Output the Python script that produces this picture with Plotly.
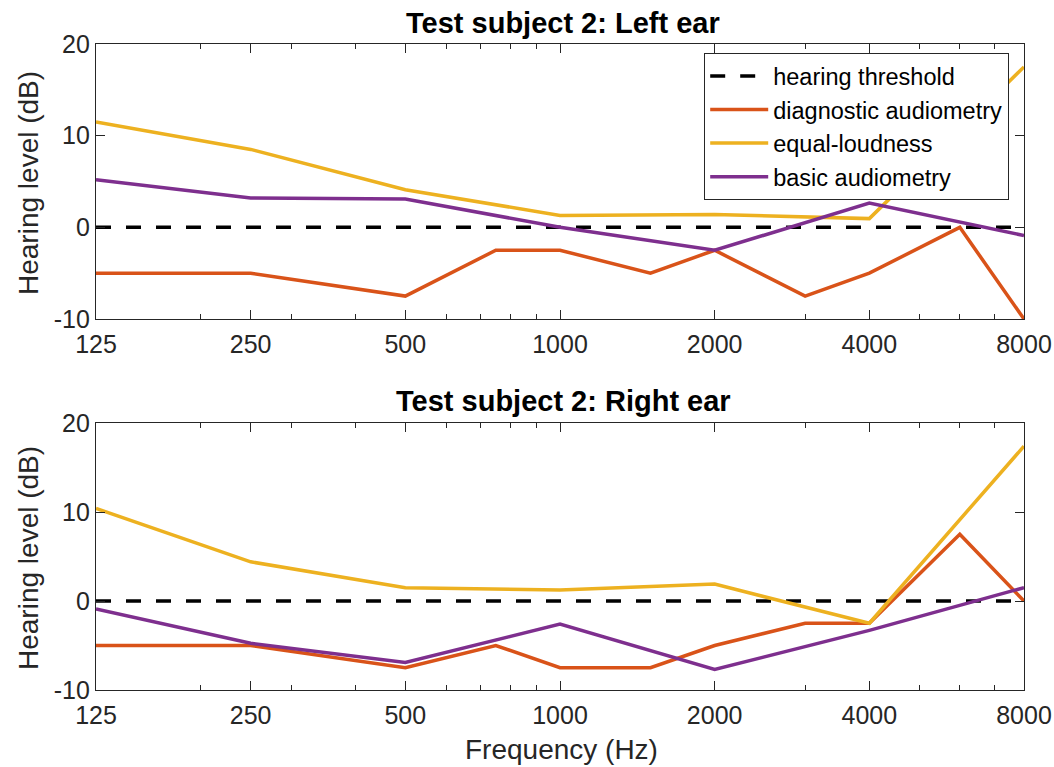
import plotly.graph_objects as go

# ---- data ----
freq_diag = [125, 250, 500, 750, 1000, 1500, 2000, 3000, 4000, 6000, 8000]
freq_oct = [125, 250, 500, 1000, 2000, 4000, 8000]
threshold_freq = [125, 8000]
threshold_level = [0, 0]

left_diagnostic = [-5, -5, -7.5, -2.5, -2.5, -5, -2.5, -7.5, -5, 0, -10]
left_equal = [11.5, 8.5, 4.1, 1.3, 1.4, 0.95, 17.5]
left_basic = [5.2, 3.2, 3.1, 0, -2.5, 2.65, -0.9]

right_diagnostic = [-5, -5, -7.5, -5, -7.5, -7.5, -5, -2.5, -2.5, 7.5, 0]
right_equal = [10.4, 4.4, 1.5, 1.25, 1.9, -2.5, 17.4]
right_basic = [-0.9, -4.75, -6.9, -2.6, -7.7, -3.3, 1.5]

xtick_vals = [125, 250, 500, 1000, 2000, 4000, 8000]
xtick_text = ["125", "250", "500", "1000", "2000", "4000", "8000"]
xminor_vals = [200, 300, 400, 600, 700, 800, 900, 3000, 5000, 6000, 7000]
ytick_vals = [-10, 0, 10, 20]
ytick_text = ["-10", "0", "10", "20"]

titles = ["Test subject 2: Left ear", "Test subject 2: Right ear"]
names = ["hearing threshold", "diagnostic audiometry", "equal-loudness", "basic audiometry"]
colors = ["#000000", "#D95319", "#EDB120", "#7E2F8E"]

FONT = "Liberation Sans, Arial, Helvetica, sans-serif"
AXC = "#262626"
W, H = 1054, 767
LW = 3.5

fig = go.Figure()

panels = [
    ("x", "y", left_diagnostic, left_equal, left_basic, True),
    ("x2", "y2", right_diagnostic, right_equal, right_basic, False),
]
for xa, ya, diag, eq, basic, showleg in panels:
    fig.add_trace(go.Scatter(x=threshold_freq, y=threshold_level, mode="lines", name=names[0],
                             line=dict(color=colors[0], width=LW, dash="15px,15px"),
                             xaxis=xa, yaxis=ya, showlegend=showleg))
    fig.add_trace(go.Scatter(x=freq_diag, y=diag, mode="lines", name=names[1],
                             line=dict(color=colors[1], width=LW),
                             xaxis=xa, yaxis=ya, showlegend=showleg))
    fig.add_trace(go.Scatter(x=freq_oct, y=eq, mode="lines", name=names[2],
                             line=dict(color=colors[2], width=LW),
                             xaxis=xa, yaxis=ya, showlegend=showleg))
    fig.add_trace(go.Scatter(x=freq_oct, y=basic, mode="lines", name=names[3],
                             line=dict(color=colors[3], width=LW),
                             xaxis=xa, yaxis=ya, showlegend=showleg))

xdom = [96 / W, 1024 / W]
top_dom = [1 - 319 / H, 1 - 44 / H]
bot_dom = [1 - 690 / H, 1 - 423 / H]

xcommon = dict(type="log", range=[2.0969100130, 3.9030899870], tickmode="array",
               tickvals=xtick_vals, ticktext=xtick_text, ticks="inside", ticklen=9,
               tickwidth=1.2, tickcolor=AXC, showline=True, linecolor=AXC, linewidth=1.2,
               mirror="ticks", showgrid=False, zeroline=False, automargin=False,
               ticklabelstandoff=3,
               tickfont=dict(family=FONT, size=25, color=AXC),
               minor=dict(tickmode="array", tickvals=xminor_vals, ticks="inside",
                          ticklen=5, tickwidth=1.2, tickcolor=AXC, showgrid=False),
               domain=xdom)
ycommon = dict(range=[-10, 20], tickmode="array", tickvals=ytick_vals, ticktext=ytick_text,
               ticks="inside", ticklen=9, tickwidth=1.2, tickcolor=AXC, showline=True,
               linecolor=AXC, linewidth=1.2, mirror="ticks", showgrid=False, zeroline=False,
               automargin=False, tickfont=dict(family=FONT, size=25, color=AXC))

fig.update_layout(
    template="none",
    width=W, height=H,
    margin=dict(l=0, r=0, t=0, b=0, autoexpand=False),
    paper_bgcolor="white", plot_bgcolor="white",
    xaxis=dict(xcommon, anchor="y"),
    yaxis=dict(ycommon, domain=top_dom, anchor="x"),
    xaxis2=dict(xcommon, anchor="y2"),
    yaxis2=dict(ycommon, domain=bot_dom, anchor="x2"),
    legend=dict(x=1009 / W, y=1 - 53 / H, xanchor="right", yanchor="top",
                bgcolor="white", bordercolor=AXC, borderwidth=1.2,
                font=dict(family=FONT, size=23.5, color="#000000"),
                tracegroupgap=0, itemwidth=58),
    showlegend=True,
)

annotations = [
    dict(text="<b>" + titles[0] + "</b>", x=563 / W, y=1 - 23 / H, xref="paper", yref="paper",
         showarrow=False, xanchor="center", yanchor="middle",
         font=dict(family=FONT, size=29, color="#000000")),
    dict(text="<b>" + titles[1] + "</b>", x=563 / W, y=1 - 401 / H, xref="paper", yref="paper",
         showarrow=False, xanchor="center", yanchor="middle",
         font=dict(family=FONT, size=29, color="#000000")),
    dict(text="Hearing level (dB)", x=28 / W, y=1 - 183 / H, xref="paper", yref="paper",
         showarrow=False, xanchor="center", yanchor="middle", textangle=-90,
         font=dict(family=FONT, size=28, color=AXC)),
    dict(text="Hearing level (dB)", x=28 / W, y=1 - 558 / H, xref="paper", yref="paper",
         showarrow=False, xanchor="center", yanchor="middle", textangle=-90,
         font=dict(family=FONT, size=28, color=AXC)),
    dict(text="Frequency (Hz)", x=561 / W, y=1 - 749 / H, xref="paper", yref="paper",
         showarrow=False, xanchor="center", yanchor="middle",
         font=dict(family=FONT, size=28, color=AXC)),
]
fig.update_layout(annotations=annotations)

fig.write_html("out.html")
